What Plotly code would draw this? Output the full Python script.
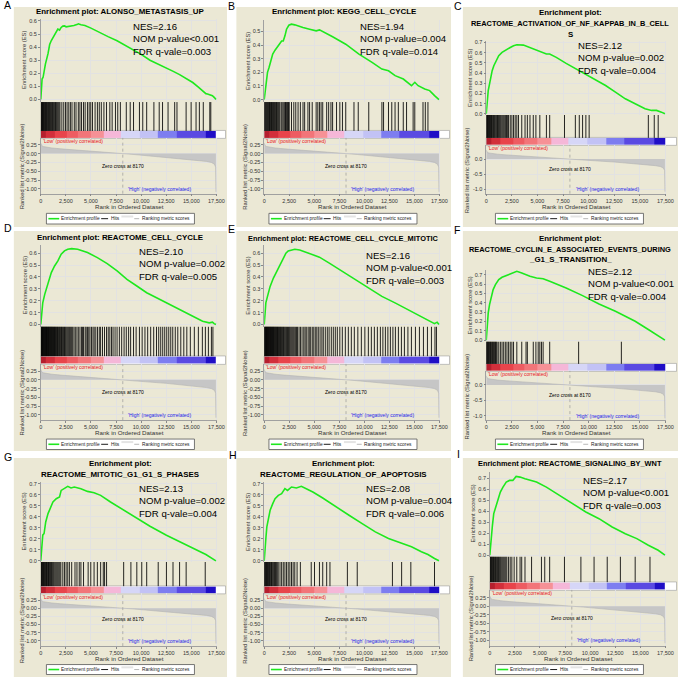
import plotly.graph_objects as go

W, H = 685, 679
FONT = "Liberation Sans, Arial, Helvetica, sans-serif"

# ---------------- data ----------------
LETTERS = ["A", "B", "C", "D", "E", "F", "G", "H", "I"]
TITLES = [
    ["Enrichment plot: ALONSO_METASTASIS_UP"],
    ["Enrichment plot: KEGG_CELL_CYCLE"],
    ["Enrichment plot:", "REACTOME_ACTIVATION_OF_NF_KAPPAB_IN_B_CELL", "S"],
    ["Enrichment plot: REACTOME_CELL_CYCLE"],
    ["Enrichment plot: REACTOME_CELL_CYCLE_MITOTIC"],
    ["Enrichment plot:", "REACTOME_CYCLIN_E_ASSOCIATED_EVENTS_DURING", "_G1_S_TRANSITION_"],
    ["Enrichment plot:", "REACTOME_MITOTIC_G1_G1_S_PHASES"],
    ["Enrichment plot:", "REACTOME_REGULATION_OF_APOPTOSIS"],
    ["Enrichment plot: REACTOME_SIGNALING_BY_WNT"],
]
NES = ["2.16", "1.94", "2.12", "2.10", "2.16", "2.12", "2.13", "2.08", "2.17"]
NOM_P = ["<0.001", "=0.004", "=0.002", "=0.002", "<0.001", "<0.001", "=0.002", "=0.004", "<0.001"]
FDR_Q = ["0.003", "0.014", "0.004", "0.005", "0.003", "0.004", "0.004", "0.006", "0.003"]

ES_X_A = [0, 65, 130, 230, 330, 460, 720, 885, 1050, 1376, 1700, 1870, 2030, 2200, 2360, 2520, 2750, 3015, 3300, 3670, 3740, 4000, 4400, 5000, 5964, 6700, 7600, 8400, 9240, 10000, 10880, 11700, 12520, 13200, 13830, 14500, 15140, 15700, 16120, 16450, 16610, 16850, 17100, 17300, 17450]
ES_Y_A = [0, 0.094, 0.157, 0.17, 0.22, 0.27, 0.35, 0.42, 0.45, 0.50, 0.537, 0.53, 0.55, 0.56, 0.562, 0.555, 0.558, 0.56, 0.565, 0.575, 0.578, 0.57, 0.565, 0.545, 0.506, 0.48, 0.448, 0.415, 0.38, 0.345, 0.30, 0.27, 0.245, 0.215, 0.19, 0.16, 0.13, 0.095, 0.068, 0.045, 0.043, 0.038, 0.03, 0.015, 0.0]
ES_X_B = [0, 100, 200, 330, 490, 660, 850, 1080, 1250, 1510, 1740, 1900, 2070, 2230, 2460, 2720, 3050, 3380, 3870, 4530, 5190, 5520, 5840, 6830, 8140, 9460, 10770, 11750, 12410, 13070, 13890, 14380, 14710, 15040, 15370, 16030, 16520, 17010, 17450]
ES_Y_B = [0, 0.066, 0.163, 0.2, 0.237, 0.285, 0.334, 0.363, 0.383, 0.407, 0.43, 0.43, 0.468, 0.517, 0.546, 0.554, 0.549, 0.54, 0.53, 0.517, 0.505, 0.512, 0.5, 0.461, 0.407, 0.334, 0.273, 0.224, 0.212, 0.176, 0.151, 0.12, 0.102, 0.127, 0.102, 0.078, 0.066, 0.029, 0]
ES_X_C = [0, 96, 193, 289, 417, 578, 739, 899, 1220, 1541, 1862, 2344, 2665, 2986, 3628, 4270, 4913, 5555, 5876, 6197, 6840, 7803, 8766, 9729, 10692, 11656, 12619, 13582, 14545, 15508, 16150, 16632, 17114, 17450]
ES_Y_C = [0, 0.13, 0.228, 0.277, 0.358, 0.423, 0.472, 0.505, 0.57, 0.603, 0.625, 0.651, 0.668, 0.678, 0.674, 0.651, 0.625, 0.603, 0.586, 0.586, 0.554, 0.495, 0.44, 0.384, 0.335, 0.277, 0.212, 0.147, 0.098, 0.049, 0.033, 0.033, 0.016, 0]
ES_X_D = [0, 98, 197, 393, 721, 1049, 1376, 1704, 2032, 2360, 2687, 3080, 3670, 4653, 5636, 6619, 7603, 8586, 9569, 10552, 11535, 12518, 13501, 14484, 15467, 16123, 16778, 17106, 17270, 17450]
ES_Y_D = [0, 0.113, 0.183, 0.254, 0.352, 0.437, 0.493, 0.535, 0.592, 0.62, 0.634, 0.639, 0.634, 0.606, 0.563, 0.513, 0.451, 0.38, 0.324, 0.268, 0.225, 0.183, 0.141, 0.099, 0.056, 0.028, 0.014, 0.02, 0.008, 0]
ES_X_E = [0, 66, 164, 328, 591, 919, 1248, 1576, 1904, 2167, 2397, 2725, 3053, 3546, 4531, 5515, 6500, 7814, 9127, 10440, 11753, 13066, 14380, 15693, 16678, 17006, 17268, 17450]
ES_Y_E = [0, 0.098, 0.182, 0.237, 0.321, 0.391, 0.447, 0.503, 0.545, 0.6, 0.62, 0.628, 0.634, 0.628, 0.6, 0.567, 0.517, 0.447, 0.377, 0.307, 0.237, 0.182, 0.126, 0.07, 0.028, 0.008, 0.02, 0]
ES_X_F = [0, 96, 193, 321, 482, 674, 899, 1220, 1541, 2023, 2504, 2986, 3468, 4270, 4913, 5555, 6197, 7803, 9408, 11014, 12619, 13582, 14545, 15829, 16793, 17450]
ES_Y_F = [0, 0.167, 0.292, 0.381, 0.47, 0.541, 0.594, 0.648, 0.673, 0.694, 0.708, 0.737, 0.719, 0.683, 0.665, 0.658, 0.63, 0.559, 0.477, 0.388, 0.31, 0.256, 0.203, 0.114, 0.043, 0]
ES_X_G = [0, 98, 197, 328, 492, 721, 983, 1212, 1540, 1868, 2032, 2360, 2687, 3015, 3343, 3998, 4653, 5309, 5964, 6947, 8258, 9569, 10880, 12518, 14157, 15467, 16450, 17450]
ES_Y_G = [0, 0.142, 0.233, 0.248, 0.353, 0.429, 0.489, 0.535, 0.565, 0.58, 0.64, 0.662, 0.677, 0.662, 0.671, 0.656, 0.631, 0.619, 0.595, 0.535, 0.459, 0.384, 0.314, 0.233, 0.157, 0.097, 0.057, 0]
ES_X_H = [0, 66, 164, 263, 427, 591, 854, 1083, 1412, 1740, 2068, 2331, 2725, 3217, 3710, 4202, 4859, 5843, 7157, 8470, 9783, 11096, 12410, 13723, 14708, 15693, 16350, 17006, 17450]
ES_Y_H = [0, 0.112, 0.202, 0.308, 0.399, 0.459, 0.52, 0.565, 0.595, 0.61, 0.656, 0.64, 0.671, 0.662, 0.677, 0.656, 0.625, 0.571, 0.489, 0.414, 0.338, 0.263, 0.202, 0.157, 0.127, 0.082, 0.057, 0.021, 0]
ES_X_I = [0, 66, 164, 262, 393, 557, 786, 1049, 1311, 1638, 1966, 2294, 2622, 3015, 3506, 3998, 4653, 5636, 6947, 8258, 9569, 10880, 12190, 13501, 14648, 15795, 16778, 17450]
ES_Y_I = [0, 0.091, 0.166, 0.272, 0.378, 0.423, 0.483, 0.574, 0.619, 0.665, 0.68, 0.68, 0.716, 0.71, 0.695, 0.68, 0.665, 0.619, 0.544, 0.468, 0.393, 0.332, 0.257, 0.196, 0.151, 0.091, 0.045, 0]

HITS_A = [10, 60, 110, 170, 220, 280, 330, 390, 450, 500, 560, 620, 690, 750, 810, 880, 950, 1020, 1090, 1160, 1240, 1310, 1390, 1470, 1550, 1640, 1730, 1820, 1910, 2100, 2290, 2460, 2620, 2790, 2950, 3110, 3340, 3510, 3740, 3900, 4060, 4260, 4420, 4650, 4820, 4980, 5150, 5410, 5640, 5830, 6030, 6290, 6550, 6880, 7110, 7440, 7670, 7930, 8520, 8910, 9240, 9830, 10160, 10550, 11270, 11800, 12130, 12680, 13340, 13570, 14480, 14980, 15470, 15800, 16190, 16840, 16940]
HITS_B = [20, 80, 150, 210, 280, 350, 400, 470, 530, 600, 660, 730, 800, 860, 940, 1010, 1080, 1150, 1230, 1310, 1400, 1480, 1560, 1700, 1800, 1950, 2050, 2130, 2200, 2280, 2350, 2420, 2500, 2725, 2955, 3152, 3381, 3611, 3874, 4038, 4366, 4531, 4793, 5187, 5351, 5515, 5680, 5844, 6238, 6435, 6664, 6829, 7223, 7551, 7814, 8142, 8963, 9390, 10440, 11753, 11917, 12410, 12738, 13066, 13394, 13887, 14215, 14872, 15036, 15857, 16087, 16350]
HITS_C = [10, 60, 120, 170, 230, 290, 340, 400, 460, 520, 580, 650, 720, 790, 860, 940, 1020, 1100, 1190, 1280, 1370, 1460, 1560, 1660, 1760, 1870, 1980, 2090, 2180, 2344, 2505, 2665, 2826, 2986, 3147, 3468, 3789, 4014, 4270, 4592, 4849, 5234, 5876, 6197, 7642, 8702, 9087, 9408, 9729, 10050, 15830, 16408, 16793]
HITS_D = [0, 40, 80, 130, 170, 210, 260, 300, 350, 390, 440, 480, 530, 570, 620, 660, 710, 760, 800, 850, 900, 950, 1000, 1050, 1100, 1150, 1200, 1260, 1310, 1370, 1420, 1480, 1540, 1600, 1660, 1720, 1790, 1850, 1920, 1990, 2060, 2130, 2200, 2280, 2360, 2440, 2520, 2610, 2700, 2790, 2880, 2980, 3080, 3180, 3310, 3440, 3600, 3740, 3900, 4050, 4150, 4260, 4420, 4520, 4650, 4780, 4900, 5050, 5200, 5320, 5480, 5650, 5830, 5960, 6150, 6350, 6550, 6720, 6880, 7050, 7200, 7400, 7600, 7830, 8060, 8300, 8520, 8750, 8950, 9240, 9500, 9830, 10100, 10380, 10650, 10950, 11250, 11530, 11750, 11950, 12150, 12350, 12550, 12750, 12950, 13150, 13400, 13650, 13950, 14250, 14550, 14900, 15300, 15700, 16100, 16400, 16700, 17000, 17150]
HITS_E = [0, 50, 90, 140, 180, 230, 270, 320, 360, 410, 450, 500, 550, 590, 640, 690, 740, 790, 840, 890, 940, 990, 1050, 1100, 1160, 1210, 1270, 1330, 1390, 1450, 1510, 1580, 1640, 1710, 1780, 1850, 1920, 2000, 2080, 2160, 2240, 2330, 2420, 2510, 2600, 2700, 2800, 2900, 3000, 3110, 3220, 3330, 3480, 3620, 3780, 3950, 4080, 4200, 4380, 4500, 4640, 4800, 4950, 5100, 5250, 5400, 5580, 5760, 5900, 6100, 6300, 6480, 6700, 6900, 7100, 7300, 7550, 7800, 8100, 8400, 8700, 9000, 9350, 9700, 10050, 10400, 10700, 11000, 11300, 11600, 11850, 12100, 12350, 12600, 12850, 13100, 13400, 13700, 14000, 14350, 14700, 15100, 15500, 15900, 16300, 16700, 17050, 17200]
HITS_F = [10, 60, 110, 170, 230, 290, 350, 420, 480, 550, 620, 690, 760, 830, 900, 980, 1060, 1220, 1380, 1541, 1702, 1862, 2023, 2183, 2344, 2504, 2665, 2986, 3468, 3885, 4014, 4592, 4849, 5073, 5234, 5394, 5555, 6197, 9023, 13197]
HITS_G = [10, 60, 110, 160, 220, 280, 330, 390, 450, 510, 570, 640, 700, 770, 840, 900, 980, 1060, 1140, 1220, 1300, 1400, 1500, 1600, 1700, 1800, 1900, 2000, 2196, 2359, 2523, 2687, 2851, 3080, 3408, 3605, 3834, 3998, 4260, 4719, 4981, 5309, 5636, 5964, 6226, 6357, 6554, 8258, 8979, 9569, 10060, 10552, 11699, 12518, 13173, 13829, 14484, 16385]
HITS_H = [10, 60, 110, 170, 220, 280, 340, 400, 460, 520, 590, 660, 730, 800, 880, 960, 1040, 1120, 1210, 1300, 1400, 1576, 1740, 1904, 2068, 2232, 2397, 2561, 2725, 2889, 3053, 3283, 3611, 4695, 5023, 5515, 5844, 6238, 6566, 8306, 9291, 12804, 13723, 14642, 17006]
HITS_I = [10, 60, 120, 180, 240, 300, 360, 420, 490, 560, 630, 700, 780, 860, 940, 1020, 1100, 1200, 1300, 1400, 1500, 1600, 1700, 1868, 2032, 2196, 2425, 2687, 3015, 3179, 3506, 4162, 5145, 5473, 5964, 7439, 9077, 10388, 11699, 13010, 14484, 15959]

ES_X = [ES_X_A, ES_X_B, ES_X_C, ES_X_D, ES_X_E, ES_X_F, ES_X_G, ES_X_H, ES_X_I]
ES_Y = [ES_Y_A, ES_Y_B, ES_Y_C, ES_Y_D, ES_Y_E, ES_Y_F, ES_Y_G, ES_Y_H, ES_Y_I]
HITS = [HITS_A, HITS_B, HITS_C, HITS_D, HITS_E, HITS_F, HITS_G, HITS_H, HITS_I]

# ranked list metric (same ranked list for every panel)
RANK_X = [0, 20, 80, 250, 600, 1100, 2000, 3000, 4500, 6000, 7200, 8170, 9300, 10900, 12500, 14200, 15500, 16500, 17000, 17300, 17420, 17445, 17450]
RANK_Y = [0.30, 0.27, 0.23, 0.20, 0.18, 0.16, 0.135, 0.11, 0.08, 0.05, 0.025, 0.0, -0.025, -0.065, -0.1, -0.145, -0.18, -0.22, -0.25, -0.3, -0.38, -0.6, -1.08]
ZERO_CROSS = 8170

# colour bar of the ranked list
CB_EDGES = [0, 500, 1400, 2600, 3700, 5000, 6300, 8000, 9900, 11700, 13500, 16450, 17450]
CB_COLORS = ["#b51f2e", "#d22f3b", "#e8444b", "#ee5c62", "#f27579", "#f69196",
             "#f5b7d8", "#d6d6f7", "#c2c2f5", "#7d7df0", "#5a4ae2", "#200ec6"]

X_MAX = 17600
X_TICKS = [0, 2500, 5000, 7500, 10000, 12500, 15000, 17500]
X_TICK_TEXT = ["0", "2,500", "5,000", "7,500", "10,000", "12,500", "15,000", "17,500"]
ES_TICKS = [0.0, 0.1, 0.2, 0.3, 0.4, 0.5, 0.6, 0.7]
ES_TICK_TEXT = ["0.0", "0.1", "0.2", "0.3", "0.4", "0.5", "0.6", "0.7"]
ES_TICK_COUNT = [7, 6, 8, 7, 7, 8, 8, 8, 8]
RK_TICKS_FINE = [0.25, 0.0, -0.25, -0.5, -0.75, -1.0]
RK_TEXT_FINE = ["0.25", "0.00", "-0.25", "-0.50", "-0.75", "-1.00"]
RK_TICKS_COARSE = [0.0, -0.5, -1.0]
RK_TEXT_COARSE = ["0.0", "-0.5", "-1.0"]
RK_COARSE = [False, False, True, False, False, True, False, False, False]

# ---------------- layout geometry (pixels) ----------------
GEOM = [
    dict(bx=(12, 228), by=(6, 227), letter=(1, 4.5), ty=[11], px=(39.3, 218.3),
         es=(18, 101.5, -0.019, 0.615), hits=(101.5, 130.5), cb=(130.5, 137.5),
         rk=(137.5, 193.5, -1.132, 0.445), nes=(132, 38.3), leg=(213.3, 224)),
    dict(bx=(237.5, 455), by=(6, 227), letter=(228, 5), ty=[11], px=(265.7, 444.3),
         es=(19.3, 101.5, -0.018, 0.583), hits=(101.5, 130.5), cb=(130.5, 137.5),
         rk=(137.5, 193.5, -1.132, 0.445), nes=(362, 38.3), leg=(213.3, 224)),
    dict(bx=(467, 685), by=(6, 227), letter=(457, 5), ty=[11.7, 22.7, 33.3], px=(490.7, 673.3),
         es=(40, 114.5, -0.012, 0.716), hits=(114.5, 137.5), cb=(137.5, 144.5),
         rk=(144.5, 193.5, -1.149, 0.469), nes=(583, 57), leg=(213.3, 224)),
    dict(bx=(12, 228), by=(231, 452), letter=(1, 228), ty=[238], px=(39.3, 218.3),
         es=(245, 327, -0.017, 0.67), hits=(327, 357), cb=(357, 364.5),
         rk=(364.5, 421, -1.15, 0.455), nes=(138, 264.3), leg=(440, 450.5)),
    dict(bx=(237.5, 455), by=(231, 452), letter=(228, 229.5), ty=[238.3], px=(265.7, 444.3),
         es=(245, 327, -0.017, 0.67), hits=(327, 357), cb=(357, 364.5),
         rk=(364.5, 421, -1.15, 0.455), nes=(367.7, 268.3), leg=(440, 450.5)),
    dict(bx=(467, 685), by=(231, 452), letter=(457, 230), ty=[238.3, 249.3, 259.3], px=(490.7, 673.3),
         es=(270, 342, -0.014, 0.753), hits=(342, 364.5), cb=(364.5, 371.5),
         rk=(371.5, 421, -1.139, 0.458), nes=(593, 284.3), leg=(440, 450.5)),
    dict(bx=(12, 228), by=(459, 679), letter=(1, 458), ty=[465, 476], px=(39.3, 218.3),
         es=(483.3, 563.5, -0.011, 0.715), hits=(563.5, 588), cb=(588, 595),
         rk=(595, 648, -1.16, 0.454), nes=(138, 502.3), leg=(666.5, 676.5)),
    dict(bx=(237.5, 455), by=(459, 679), letter=(229.5, 456.5), ty=[465, 476], px=(265.7, 444.3),
         es=(483.3, 563.5, -0.011, 0.715), hits=(563.5, 588), cb=(588, 595),
         rk=(595, 648, -1.16, 0.454), nes=(367.7, 502.3), leg=(666.5, 676.5)),
    dict(bx=(467, 685), by=(459, 679), letter=(460, 455), ty=[465], px=(494.3, 673.3),
         es=(472.7, 558, -0.012, 0.76), hits=(558, 584), cb=(584, 591.5),
         rk=(591.5, 647.5, -1.151, 0.477), nes=(588, 494.5), leg=(666.5, 676.5)),
]

BEIGE = "#ebe8d5"
GREEN = "#1ee81e"


def PX(x):
    return x / W


def PY(y):
    return 1 - y / H


fig = go.Figure()
lay = {}
shapes = []
anns = []


def ann(text, x, y, size, color="black", xanchor="left", yanchor="middle", bold=False, angle=0):
    if bold:
        text = "<b>" + text + "</b>"
    anns.append(dict(text=text, x=PX(x), y=PY(y), xref="paper", yref="paper", showarrow=False,
                     xanchor=xanchor, yanchor=yanchor, textangle=angle, borderpad=0,
                     align="left" if xanchor == "left" else "center",
                     font=dict(size=size, color=color, family=FONT)))


n_cb = len(CB_COLORS)
cb_scale = [[i / (n_cb - 1), c] for i, c in enumerate(CB_COLORS)]

for k in range(9):
    g = GEOM[k]
    px0, px1 = g["px"]
    bx0, bx1 = g["bx"]
    by0, by1 = g["by"]
    ids = [4 * k + j + 1 for j in range(4)]
    xa = ["x" if n == 1 else f"x{n}" for n in ids]
    ya = ["y" if n == 1 else f"y{n}" for n in ids]
    xk = ["xaxis" if n == 1 else f"xaxis{n}" for n in ids]
    yk = ["yaxis" if n == 1 else f"yaxis{n}" for n in ids]

    # beige panel background
    shapes.append(dict(type="rect", xref="paper", yref="paper", x0=PX(bx0), x1=PX(bx1),
                       y0=PY(by1), y1=PY(by0), fillcolor=BEIGE, line=dict(width=0), layer="below"))
    # colour bar frame extending to the right border
    shapes.append(dict(type="rect", xref="paper", yref="paper", x0=PX(px0), x1=PX(bx1 - 1.5),
                       y0=PY(g["cb"][1] + 0.5), y1=PY(g["cb"][0] - 0.5), fillcolor="white",
                       line=dict(width=0.6, color="#9a9a9a"), layer="below"))

    xdom = [PX(px0), PX(px1)]
    es_top, es_bot, es_lo, es_hi = g["es"]
    rk_top, rk_bot, rk_lo, rk_hi = g["rk"]
    ntk = ES_TICK_COUNT[k]

    # --- ES axis
    lay[xk[0]] = dict(domain=xdom, range=[0, X_MAX], anchor=ya[0], tickvals=X_TICKS,
                      showticklabels=False, showgrid=True, gridcolor="#e2e2e2", gridwidth=0.5,
                      zeroline=False, ticks="", showline=False)
    lay[yk[0]] = dict(domain=[PY(es_bot), PY(es_top)], range=[es_lo, es_hi], anchor=xa[0],
                      tickvals=ES_TICKS[:ntk], ticktext=ES_TICK_TEXT[:ntk],
                      tickfont=dict(size=5.5, family=FONT, color="#333"), ticks="outside",
                      ticklen=2, tickcolor="#888", showgrid=True, gridcolor="#e2e2e2",
                      gridwidth=0.5, zeroline=False, showline=True, linecolor="#a0a0a0",
                      linewidth=0.5)
    # --- hits axis
    lay[xk[1]] = dict(domain=xdom, range=[0, X_MAX], anchor=ya[1], visible=False)
    lay[yk[1]] = dict(domain=[PY(g["hits"][1]), PY(g["hits"][0])], range=[0, 1], anchor=xa[1],
                      visible=False)
    # --- colour bar axis
    lay[xk[2]] = dict(domain=xdom, range=[0, X_MAX], anchor=ya[2], visible=False)
    lay[yk[2]] = dict(domain=[PY(g["cb"][1]), PY(g["cb"][0])], range=[0, 1], anchor=xa[2],
                      visible=False)
    # --- ranked metric axis
    if RK_COARSE[k]:
        rtv, rtt = RK_TICKS_COARSE, RK_TEXT_COARSE
    else:
        rtv, rtt = RK_TICKS_FINE, RK_TEXT_FINE
    lay[xk[3]] = dict(domain=xdom, range=[0, X_MAX], anchor=ya[3], tickvals=X_TICKS,
                      ticktext=X_TICK_TEXT, tickfont=dict(size=5.5, family=FONT, color="#333"),
                      ticks="outside", ticklen=2, tickcolor="#888", showgrid=True,
                      gridcolor="#e2e2e2", gridwidth=0.5, zeroline=False, showline=True,
                      linecolor="#a0a0a0", linewidth=0.5)
    lay[yk[3]] = dict(domain=[PY(rk_bot), PY(rk_top)], range=[rk_lo, rk_hi], anchor=xa[3],
                      tickvals=rtv, ticktext=rtt, tickfont=dict(size=5.5, family=FONT, color="#333"),
                      ticks="outside", ticklen=2, tickcolor="#888", showgrid=True,
                      gridcolor="#e2e2e2", gridwidth=0.5, zeroline=False, showline=True,
                      linecolor="#a0a0a0", linewidth=0.5)

    # --- traces
    fig.add_trace(go.Scatter(x=ES_X[k], y=ES_Y[k], mode="lines", name="Enrichment profile",
                             line=dict(color=GREEN, width=1.6), xaxis=xa[0], yaxis=ya[0],
                             showlegend=False, hoverinfo="skip"))
    hx, hy = [], []
    for r in HITS[k]:
        hx += [r, r, None]
        hy += [0, 1, None]
    fig.add_trace(go.Scatter(x=hx, y=hy, mode="lines", name="Hits",
                             line=dict(color="black", width=0.85), xaxis=xa[1], yaxis=ya[1],
                             showlegend=False, hoverinfo="skip"))
    fig.add_trace(go.Heatmap(x=CB_EDGES, y=[0, 1], z=[list(range(n_cb))], colorscale=cb_scale,
                             zmin=0, zmax=n_cb - 1, showscale=False, xaxis=xa[2], yaxis=ya[2],
                             hoverinfo="skip"))
    fig.add_trace(go.Scatter(x=RANK_X, y=RANK_Y, mode="lines", fill="tozeroy",
                             name="Ranking metric scores", fillcolor="#c6c6c6",
                             line=dict(color="#b4b4b4", width=0.6), xaxis=xa[3], yaxis=ya[3],
                             showlegend=False, hoverinfo="skip"))

    # zero-cross dashed line
    shapes.append(dict(type="line", xref=xa[3], yref=ya[3] + " domain", x0=ZERO_CROSS,
                       x1=ZERO_CROSS, y0=0, y1=1, line=dict(color="#9a9a9a", width=0.7, dash="dot")))

    # --- texts
    ann(LETTERS[k], g["letter"][0], g["letter"][1], 10.5, xanchor="left")
    tcx = (bx0 + bx1) / 2
    for line, ty in zip(TITLES[k], g["ty"]):
        ann(line, tcx, ty, 7.4 if len(line) > 40 else 7.9, xanchor="center", bold=True)
    nes_text = ("NES=" + NES[k] + "<br>NOM p-value" + NOM_P[k].replace("<", "&lt;")
                + "<br>FDR q-vale=" + FDR_Q[k])
    ann(nes_text, g["nes"][0], g["nes"][1], 9.6, xanchor="left")

    ann("'Low' (positively correlated)", px0 + 1, g["cb"][1] + 3.3, 5, color="#e8141e")
    anns.append(dict(text="Zero cross at " + str(ZERO_CROSS), x=ZERO_CROSS, y=-0.34, xref=xa[3],
                     yref=ya[3], showarrow=False, xanchor="center", yanchor="middle",
                     font=dict(size=5, family=FONT, color="black")))
    anns.append(dict(text="'High' (negatively correlated)", x=15150, y=-1.0, xref=xa[3],
                     yref=ya[3], showarrow=False, xanchor="right", yanchor="middle",
                     font=dict(size=5, family=FONT, color="#1e1ee6")))

    ann("Enrichment score (ES)", px0 - 16.5, (es_top + es_bot) / 2, 5.8, color="#333",
        xanchor="center", angle=-90)
    ann("Ranked list metric (Signal2Noise)", px0 - 19.5, (g["cb"][1] + rk_bot) / 2 + 1, 5.8,
        color="#333", xanchor="center", angle=-90)
    ann("Rank in Ordered Dataset", (px0 + px1) / 2, rk_bot + 12.8, 6.2, color="#333",
        xanchor="center")

    # --- legend box
    lx = bx0 + 33
    ly0, ly1 = g["leg"]
    lym = (ly0 + ly1) / 2
    shapes.append(dict(type="rect", xref="paper", yref="paper", x0=PX(lx), x1=PX(lx + 150),
                       y0=PY(ly1), y1=PY(ly0), fillcolor="white",
                       line=dict(color="#555", width=0.8)))
    shapes.append(dict(type="line", xref="paper", yref="paper", x0=PX(lx + 2), x1=PX(lx + 13),
                       y0=PY(lym), y1=PY(lym), line=dict(color=GREEN, width=1.6)))
    shapes.append(dict(type="line", xref="paper", yref="paper", x0=PX(lx + 55.5), x1=PX(lx + 62.5),
                       y0=PY(lym), y1=PY(lym), line=dict(color="black", width=0.9)))
    shapes.append(dict(type="line", xref="paper", yref="paper", x0=PX(lx + 76), x1=PX(lx + 88),
                       y0=PY(lym - 2.2), y1=PY(lym - 2.2), line=dict(color="#e4e4e4", width=2)))
    shapes.append(dict(type="line", xref="paper", yref="paper", x0=PX(lx + 89), x1=PX(lx + 94),
                       y0=PY(lym), y1=PY(lym), line=dict(color="#b0b0b0", width=0.9)))
    ann("Enrichment profile", lx + 14, lym, 4.8, color="#222")
    ann("Hits", lx + 64, lym, 4.8, color="#222")
    ann("Ranking metric scores", lx + 95.5, lym, 4.8, color="#222")

fig.update_layout(
    width=W, height=H, margin=dict(l=0, r=0, t=0, b=0),
    paper_bgcolor="white", plot_bgcolor="white", showlegend=False,
    font=dict(family=FONT), shapes=shapes, annotations=anns, **lay
)

fig.write_html("out.html", config={"displayModeBar": False},
               post_script="document.body.style.margin='0';document.body.style.padding='0';")
